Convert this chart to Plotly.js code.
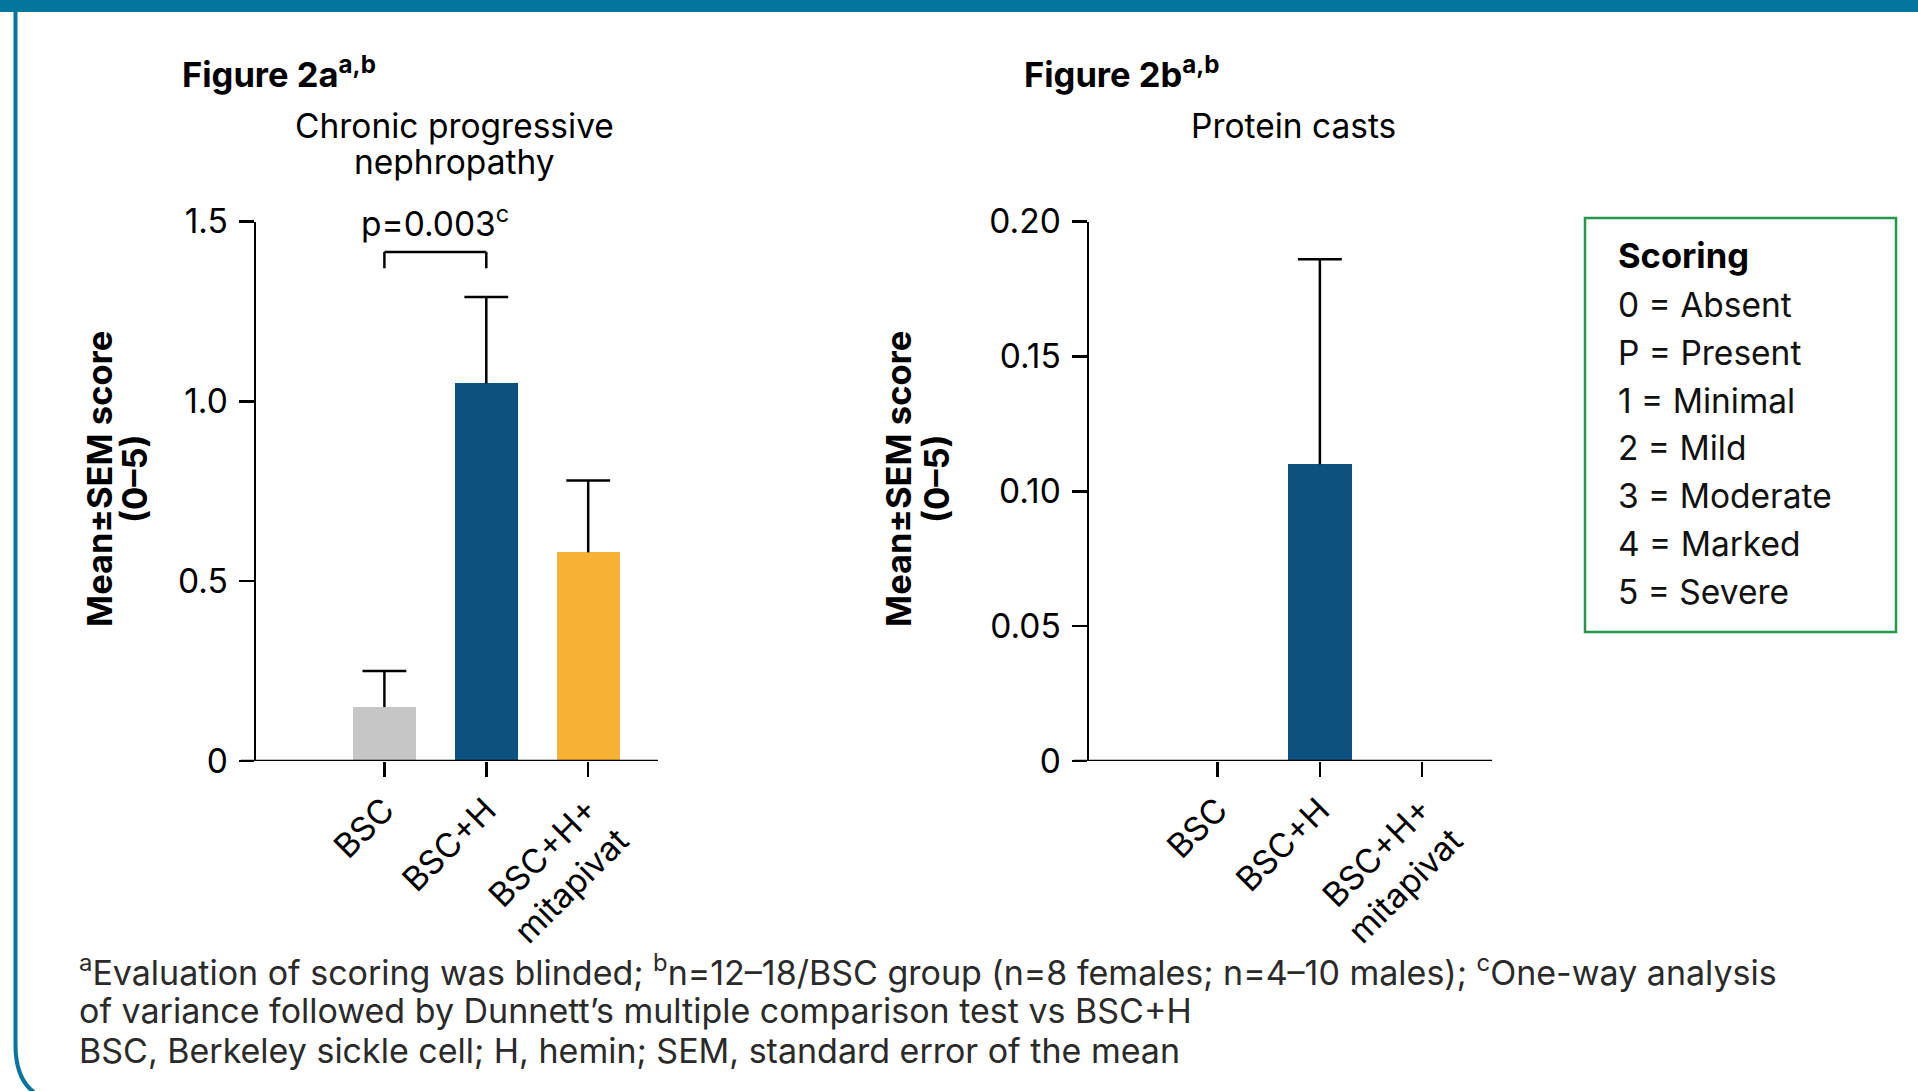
<!DOCTYPE html>
<html>
<head>
<meta charset="utf-8">
<script src="https://cdn.plot.ly/plotly-3.0.1.min.js"></script>
<style>
  html, body { margin: 0; padding: 0; background: #ffffff; }
  #chart { width: 1918px; height: 1091px; }
</style>
</head>
<body>
<div id="chart"></div>
<script>
// ---------------- data ----------------
const categories = ['BSC', 'BSC+H', 'BSC+H+<br>mitapivat'];
const barColors = ['#c6c6c6', '#0b5280', '#f7b235'];

// Figure 2a: Chronic progressive nephropathy
const cpnMean = [0.15, 1.05, 0.58];
const cpnSem = [0.10, 0.24, 0.20];
const cpnTickVals = [0, 0.5, 1.0, 1.5];
const cpnTickText = ['0', '0.5', '1.0', '1.5'];
const pValueText = 'p=0.003<sup>c</sup>';
const bracketPair = ['BSC', 'BSC+H'];

// Figure 2b: Protein casts
const castsMean = [0, 0.11, 0];
const castsSem = [0, 0.076, 0];
const castsTickVals = [0, 0.05, 0.10, 0.15, 0.20];
const castsTickText = ['0', '0.05', '0.10', '0.15', '0.20'];

const scoringTitle = 'Scoring';
const scoringLines = ['0 = Absent', 'P = Present', '1 = Minimal', '2 = Mild', '3 = Moderate', '4 = Marked', '5 = Severe'];

const footnotes = [
  '<sup>a</sup>Evaluation of scoring was blinded; <sup>b</sup>n=12–18/BSC group (n=8 females; n=4–10 males); <sup>c</sup>One-way analysis',
  'of variance followed by Dunnett’s multiple comparison test vs BSC+H',
  'BSC, Berkeley sickle cell; H, hemin; SEM, standard error of the mean'
];

// ---------------- layout helpers ----------------
const W = 1918, H = 1091;
const px = x => x / W;
const py = y => 1 - y / H;
const FONT = 'Inter, Roboto, "Liberation Sans", Arial, sans-serif';
const BOLD = 'Inter, "Liberation Sans", Arial, sans-serif';
const FS = 33.5, FSB = 34.5;
const idx = categories.map((_, i) => i);

const leftX = [256, 658], rightX = [1089, 1492];
const plotTop = 221.5, plotBottom = 761;
const yDomain = [py(plotBottom), py(plotTop)];
const xRange = [-1.26, 2.685];
const capHalf = 0.215; // cap half-width in category units

function barTrace(means, xa, ya) {
  return {
    type: 'bar', x: idx, y: means, xaxis: xa, yaxis: ya,
    width: 0.62,
    marker: { color: barColors, line: { width: 0 } },
    hoverinfo: 'skip', showlegend: false
  };
}
// upward-only SEM whiskers with a cap at the top
function semTrace(means, sems, xa, ya) {
  const xs = [], ys = [];
  means.forEach((m, i) => {
    if (!(sems[i] > 0)) return;
    const top = m + sems[i];
    xs.push(i, i, null, i - capHalf, i + capHalf, null);
    ys.push(m, top, null, top, top, null);
  });
  return {
    type: 'scatter', mode: 'lines', x: xs, y: ys, xaxis: xa, yaxis: ya,
    line: { color: '#000', width: 2.5 }, connectgaps: false,
    hoverinfo: 'skip', showlegend: false, cliponaxis: false
  };
}

const traces = [
  barTrace(cpnMean, 'x', 'y'),
  semTrace(cpnMean, cpnSem, 'x', 'y'),
  barTrace(castsMean, 'x2', 'y2'),
  semTrace(castsMean, castsSem, 'x2', 'y2')
];

const xaxisBase = {
  range: xRange, tickmode: 'array', tickvals: idx, ticktext: categories,
  tickangle: -45, ticks: 'outside', ticklen: 15, tickwidth: 2.5, tickcolor: '#000',
  showline: false, showgrid: false, zeroline: false, fixedrange: true,
  tickfont: { family: FONT, size: FS, color: '#000' }
};
const yaxisBase = {
  tickmode: 'array', ticks: 'outside', ticklen: 15, tickwidth: 2.5, tickcolor: '#000',
  showline: true, linewidth: 2.5, linecolor: '#000',
  showgrid: false, zeroline: false, fixedrange: true, ticklabelstandoff: 4,
  tickfont: { family: FONT, size: FS, color: '#000' }
};

const shapes = [];
// frame: top band + left rounded border
shapes.push({ type: 'rect', xref: 'paper', yref: 'paper', x0: 0, x1: 1, y0: py(12), y1: 1,
  fillcolor: '#04769d', line: { width: 0 }, layer: 'below' });
shapes.push({ type: 'path', xref: 'paper', yref: 'paper',
  path: `M ${px(15.5)} ${py(10)} L ${px(15.5)} ${py(1045)} Q ${px(15.5)} ${py(1098)} ${px(62)} ${py(1102)}`,
  line: { color: '#04769d', width: 4 }, layer: 'below' });

// x baselines (extend left past y axis by tick length)
[['x', 'y', leftX], ['x2', 'y2', rightX]].forEach(([xa, ya, ext]) => {
  const wdt = ext[1] - ext[0];
  shapes.push({ type: 'line', xref: xa + ' domain', yref: ya, x0: -15 / wdt, x1: 1, y0: 0, y1: 0,
    line: { color: '#000', width: 2.5 } });
});

// significance bracket
const b0 = categories.indexOf(bracketPair[0]);
const b1 = categories.indexOf(bracketPair[1]);
const bTop = 1.415, bLow = 1.37;
shapes.push({ type: 'line', xref: 'x', yref: 'y', x0: b0, x1: b1, y0: bTop, y1: bTop, line: { color: '#000', width: 2.5 } });
shapes.push({ type: 'line', xref: 'x', yref: 'y', x0: b0, x1: b0, y0: bLow, y1: bTop, line: { color: '#000', width: 2.5 } });
shapes.push({ type: 'line', xref: 'x', yref: 'y', x0: b1, x1: b1, y0: bLow, y1: bTop, line: { color: '#000', width: 2.5 } });

// scoring box
shapes.push({ type: 'rect', xref: 'paper', yref: 'paper', x0: px(1585), x1: px(1896), y0: py(632), y1: py(218),
  line: { color: '#22994a', width: 2.5 }, fillcolor: 'rgba(0,0,0,0)' });

const annotations = [];
function ann(text, x, y, opts) {
  annotations.push(Object.assign({
    text: text, xref: 'paper', yref: 'paper', x: px(x), y: py(y),
    xanchor: 'left', yanchor: 'middle', showarrow: false,
    font: { family: FONT, size: FS, color: '#000' }
  }, opts || {}));
}

// figure labels
ann('<b>Figure 2a</b><b><sup>a,b</sup></b>', 180, 72, { font: { family: BOLD, size: FSB, color: '#000' } });
ann('<b>Figure 2b</b><b><sup>a,b</sup></b>', 1022, 72, { font: { family: BOLD, size: FSB, color: '#000' } });
// panel titles
ann('Chronic progressive', 454, 126, { xanchor: 'center' });
ann('nephropathy', 454, 162, { xanchor: 'center' });
ann('Protein casts', 1293, 126, { xanchor: 'center' });
// y titles
[[99, 134], [898, 936]].forEach(([a, b]) => {
  ann('<b>Mean±SEM score</b>', a, 479, { xanchor: 'center', textangle: -90, font: { family: BOLD, size: FSB, color: '#000' } });
  ann('<b>(0–5)</b>', b, 479, { xanchor: 'center', textangle: -90, font: { family: BOLD, size: FSB, color: '#000' } });
});
// p value
annotations.push({ text: pValueText, xref: 'x', yref: 'y', x: (b0 + b1) / 2, y: 1.5,
  xanchor: 'center', yanchor: 'middle', showarrow: false,
  font: { family: FONT, size: FS, color: '#000' } });
// scoring legend
ann('<b>' + scoringTitle + '</b>', 1616, 256, { font: { family: BOLD, size: FSB, color: '#000' } });
scoringLines.forEach((t, i) => ann(t, 1616, 305 + i * 47.8, { font: { family: FONT, size: FS, color: '#111' } }));
// footnotes
footnotes.forEach((t, i) => ann(t, 77, 970 + i * 40.3, { font: { family: FONT, size: 34, color: '#2a2a2a' } }));

const layout = {
  width: W, height: H,
  margin: { l: 0, r: 0, t: 0, b: 0, pad: 0 },
  paper_bgcolor: '#ffffff', plot_bgcolor: 'rgba(0,0,0,0)',
  showlegend: false, bargap: 0,
  xaxis: Object.assign({}, xaxisBase, { domain: [px(leftX[0]), px(leftX[1])], anchor: 'y' }),
  yaxis: Object.assign({}, yaxisBase, { domain: yDomain, range: [0, 1.5], tickvals: cpnTickVals, ticktext: cpnTickText, anchor: 'x' }),
  xaxis2: Object.assign({}, xaxisBase, { domain: [px(rightX[0]), px(rightX[1])], anchor: 'y2' }),
  yaxis2: Object.assign({}, yaxisBase, { domain: yDomain, range: [0, 0.2], tickvals: castsTickVals, ticktext: castsTickText, anchor: 'x2' }),
  shapes: shapes, annotations: annotations
};

Plotly.newPlot('chart', traces, layout, { staticPlot: true, displayModeBar: false });
</script>
</body>
</html>
